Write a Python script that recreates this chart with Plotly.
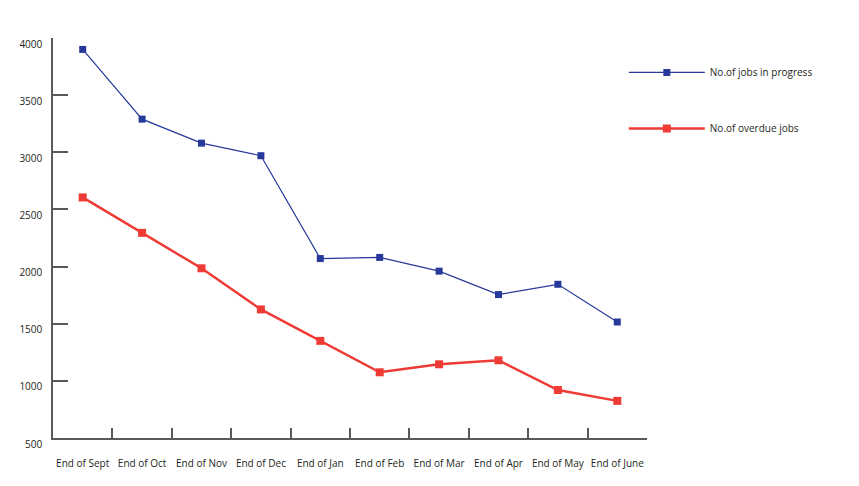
## Jobs in progress vs overdue jobs, month by month
import plotly.graph_objects as go

# Months on the x axis
months = ["End of Sept", "End of Oct", "End of Nov", "End of Dec", "End of Jan",
          "End of Feb", "End of Mar", "End of Apr", "End of May", "End of June"]

# Values
jobs_in_progress = [3900, 3290, 3080, 2970, 2070, 2080, 1960, 1755, 1845, 1515]
overdue_jobs = [2605, 2295, 1985, 1625, 1350, 1075, 1145, 1180, 920, 825]

y_ticks = [500, 1000, 1500, 2000, 2500, 3000, 3500, 4000]

blue = "#27399a"
red = "#ef3b35"
axis_grey = "#5a5a5a"
font = dict(family="Open Sans, Noto Sans, sans-serif", size=10, color="#231f20")

fig = go.Figure()
fig.add_trace(go.Scatter(x=months, y=jobs_in_progress, name="No.of jobs in progress",
                         mode="lines+markers", showlegend=True,
                         line=dict(color=blue, width=1.2),
                         marker=dict(symbol="square", size=7, color=blue),
                         legend="legend"))
fig.add_trace(go.Scatter(x=months, y=overdue_jobs, name="No.of overdue jobs",
                         mode="lines+markers", showlegend=True,
                         line=dict(color=red, width=2.5),
                         marker=dict(symbol="square", size=8, color=red),
                         legend="legend2"))

legend_style = dict(x=0.961, xanchor="left", yanchor="middle", itemwidth=76,
                    bgcolor="rgba(0,0,0,0)", font=font, visible=True)

# page body has an 8px margin, so the margins are trimmed to match
fig.update_layout(
    width=859, height=486,
    margin=dict(l=45, r=220, t=30, b=56),
    paper_bgcolor="white", plot_bgcolor="white",
    font=font,
    showlegend=True,
    legend=dict(y=0.914, **legend_style),
    legend2=dict(y=0.774, **legend_style),
    xaxis=dict(type="category", range=[-0.5, 9.5], tickson="boundaries",
               ticks="inside", ticklen=10, tickwidth=1.5, tickcolor=axis_grey,
               showline=True, linecolor=axis_grey, linewidth=1.5,
               showgrid=False, zeroline=False, ticklabelstandoff=15,
               tickangle=0, automargin=False),
    yaxis=dict(range=[500, 4000], tickvals=y_ticks,
               ticks="inside", ticklen=15, tickwidth=1.5, tickcolor=axis_grey,
               showline=True, linecolor=axis_grey, linewidth=1.5,
               showgrid=False, zeroline=False, ticklabelshift=6,
               ticklabelstandoff=7, automargin=False),
)

fig.write_html("out.html")
